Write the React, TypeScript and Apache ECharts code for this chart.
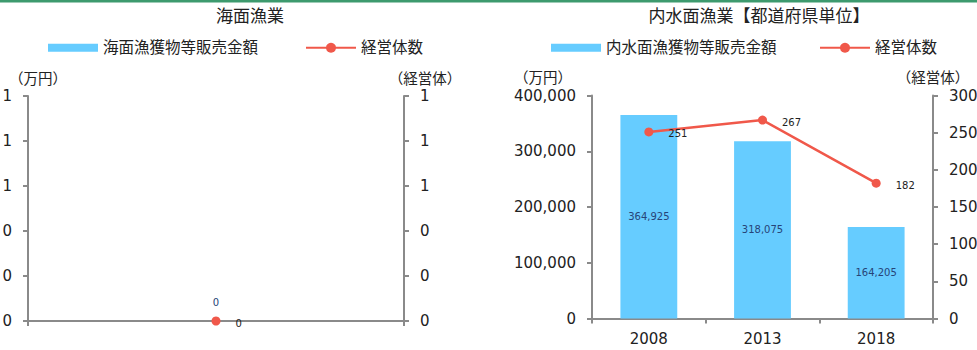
import React, { useEffect, useRef } from "react";
import * as echarts from "echarts";

// ---- data ----
const seaTitle = "海面漁業";
const inlandTitle = "内水面漁業【都道府県単位】";
const seaCategories = [""];
const seaSales = [0];
const seaOperators = [0];
const inlandCategories = ["2008", "2013", "2018"];
const inlandSales = [364925, 318075, 164205];
const inlandOperators = [251, 267, 182];
const seaSalesName = "海面漁獲物等販売金額";
const inlandSalesName = "内水面漁獲物等販売金額";
const operatorsName = "経営体数";
const leftAxisName = "（万円）";
const rightAxisName = "（経営体）";

const FONT = "'DejaVu Sans', 'Noto Sans CJK JP', sans-serif";
const BAR = "#66CCFF";
const LINE = "#F0584A";
const AXIS = "#8A8A8A";
const TXT = "#222222";
const BAR_LABEL = "#264478";

const fmt = (v: number) => Number(v).toLocaleString("en-US");

function nameStyle(extra: any) {
  return { color: TXT, fontSize: 14.5, lineHeight: 13, fontFamily: FONT, ...extra };
}

function tickLabel(extra: any) {
  return { color: TXT, fontSize: 15, lineHeight: 12, margin: 16, fontFamily: FONT, ...extra };
}

function yAxisBase(extra: any) {
  return {
    type: "value",
    splitLine: { show: false },
    axisLine: { show: true, lineStyle: { color: AXIS, width: 2 } },
    axisTick: { show: true, length: 5, lineStyle: { color: AXIS, width: 2 } },
    axisLabel: tickLabel({}),
    nameGap: 11,
    ...extra,
  };
}

function xAxisBase(extra: any) {
  return {
    type: "category",
    axisLine: { show: true, lineStyle: { color: AXIS, width: 2 } },
    axisTick: { show: true, length: 5, lineStyle: { color: AXIS, width: 2 } },
    axisLabel: { color: TXT, fontSize: 15, margin: 13, fontFamily: FONT },
    ...extra,
  };
}

function legendBase(name: string, left: number, itemHeight: number, icon?: string) {
  const l: any = {
    data: [name],
    left,
    top: 40,
    padding: 0,
    itemWidth: 50,
    itemHeight,
    textStyle: { color: TXT, fontSize: 15.5, fontFamily: FONT },
  };
  if (icon) l.icon = icon;
  return l;
}

export default function App() {
  const ref = useRef<HTMLDivElement>(null);
  useEffect(() => {
    if (!ref.current) return;
    const chart = echarts.init(ref.current, undefined, { renderer: "svg" });
    chart.setOption({
      animation: false,
      backgroundColor: "#ffffff",
      textStyle: { fontFamily: FONT },
      graphic: [
        { type: "rect", shape: { x: 0, y: 0, width: 977, height: 2.5 }, style: { fill: "#3D9A6E" } },
      ],
      title: [
        { text: seaTitle, left: 250, top: 7, padding: 0, textAlign: "center", textStyle: { fontSize: 17, fontWeight: "normal", color: TXT, fontFamily: FONT } },
        { text: inlandTitle, left: 759, top: 7, padding: 0, textAlign: "center", textStyle: { fontSize: 17, fontWeight: "normal", color: TXT, fontFamily: FONT } },
      ],
      legend: [
        legendBase(seaSalesName, 48, 8, "rect"),
        legendBase(operatorsName, 305, 12.5),
        legendBase(inlandSalesName, 551, 8, "rect"),
        legendBase(operatorsName, 819, 12.5),
      ],
      grid: [
        { left: 28, right: 573, top: 96, bottom: 29, containLabel: false, outerBoundsMode: "none" },
        { left: 592, right: 44, top: 95.5, bottom: 31.5, containLabel: false, outerBoundsMode: "none" },
      ],
      xAxis: [
        xAxisBase({ gridIndex: 0, data: seaCategories, axisLabel: { show: false } }),
        xAxisBase({ gridIndex: 1, data: inlandCategories }),
      ],
      yAxis: [
        yAxisBase({
          gridIndex: 0, min: 0, max: 1, interval: 0.2, position: "left",
          name: leftAxisName,
          nameTextStyle: nameStyle({ align: "center", padding: [0, 0, 0, 20] }),
          axisLabel: tickLabel({ formatter: (v: number) => String(Math.round(v)) }),
        }),
        yAxisBase({
          gridIndex: 0, min: 0, max: 1, interval: 0.2, position: "right",
          name: rightAxisName,
          nameTextStyle: nameStyle({ align: "center", padding: [0, 0, 0, 42] }),
          axisLabel: tickLabel({ formatter: (v: number) => String(Math.round(v)) }),
        }),
        yAxisBase({
          gridIndex: 1, min: 0, max: 400000, interval: 100000, position: "left",
          name: leftAxisName,
          nameTextStyle: nameStyle({ align: "right", padding: [0, 20, 0, 0] }),
          axisLabel: tickLabel({ formatter: (v: number) => fmt(v) }),
        }),
        yAxisBase({
          gridIndex: 1, min: 0, max: 300, interval: 50, position: "right",
          name: rightAxisName,
          nameTextStyle: nameStyle({ align: "center" }),
        }),
      ],
      series: [
        {
          type: "bar", name: seaSalesName, xAxisIndex: 0, yAxisIndex: 0, data: seaSales,
          barWidth: "50%", itemStyle: { color: BAR },
          label: { show: true, position: "top", distance: 14, color: BAR_LABEL, fontSize: 10, fontFamily: FONT, formatter: (p: any) => fmt(p.value) },
        },
        {
          type: "line", name: operatorsName, xAxisIndex: 0, yAxisIndex: 1, data: seaOperators,
          symbol: "circle", symbolSize: 9, itemStyle: { color: LINE }, lineStyle: { color: LINE, width: 2.5 },
          label: { show: true, position: "right", distance: 15, offset: [0, 2], color: TXT, fontSize: 10, fontFamily: FONT },
          z: 5,
        },
        {
          type: "bar", name: inlandSalesName, xAxisIndex: 1, yAxisIndex: 2, data: inlandSales,
          barWidth: "50%", itemStyle: { color: BAR },
          label: { show: true, position: "inside", color: BAR_LABEL, fontSize: 10, fontFamily: FONT, formatter: (p: any) => fmt(p.value) },
        },
        {
          type: "line", name: operatorsName, xAxisIndex: 1, yAxisIndex: 3, data: inlandOperators,
          symbol: "circle", symbolSize: 9, itemStyle: { color: LINE }, lineStyle: { color: LINE, width: 2.5 },
          label: { show: true, position: "right", distance: 15, offset: [0, 2], color: TXT, fontSize: 10, fontFamily: FONT },
          z: 5,
        },
      ],
    });
    return () => chart.dispose();
  }, []);
  return (
    <div
      ref={ref}
      style={{ position: "fixed", left: 0, top: 0, width: 977, height: 350, background: "#fff" }}
    />
  );
}
